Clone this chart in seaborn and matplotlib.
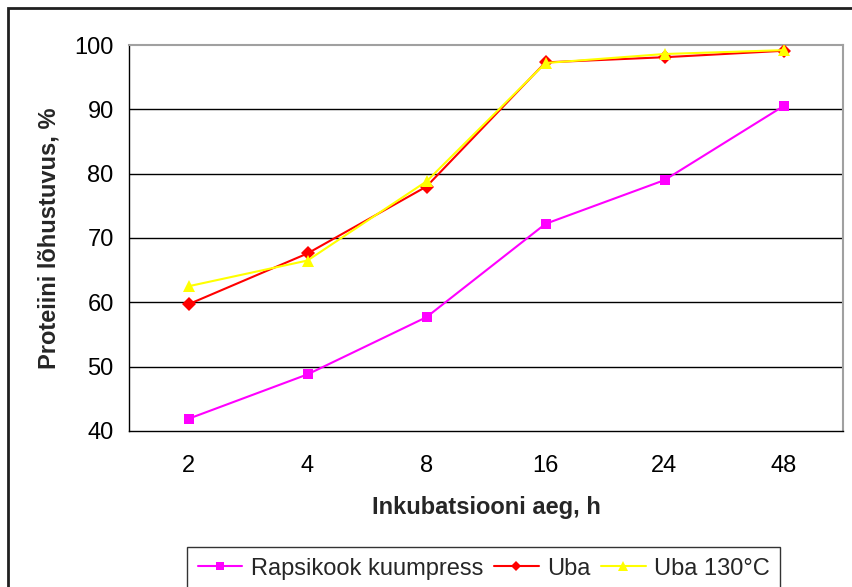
import matplotlib
matplotlib.use("Agg")
import matplotlib.pyplot as plt
from matplotlib.patches import Rectangle
from matplotlib.ticker import FixedLocator
import seaborn as sns
import pandas as pd

hours = ["2", "4", "8", "16", "24", "48"]
rapsikook = [41.9, 48.8, 57.7, 72.2, 79.0, 90.5]
uba = [59.7, 67.6, 78.0, 97.3, 98.1, 99.1]
uba_130 = [62.5, 66.5, 78.8, 97.2, 98.6, 99.2]

series_names = ["Rapsikook kuumpress", "Uba", "Uba 130\u00b0C"]
series_values = [rapsikook, uba, uba_130]
colors = ["#ff00ff", "#ff0000", "#ffff00"]
markers = ["s", "D", "^"]
marker_sizes = [7, 7, 9]

df = pd.concat(
    [pd.DataFrame({"aeg": hours, "väärtus": v, "seeria": n})
     for n, v in zip(series_names, series_values)],
    ignore_index=True,
)

sns.set_theme(style="white")
plt.rcParams["font.family"] = ["Liberation Sans", "DejaVu Sans"]

FS = 17

fig = plt.figure(figsize=(8.52, 5.87), dpi=100)
ax = fig.add_axes([129 / 852, 1 - 431 / 587, (843 - 129) / 852, (431 - 45) / 587])

for name, color, marker, ms in zip(series_names, colors, markers, marker_sizes):
    sub = df[df["seeria"] == name]
    sns.lineplot(data=sub, x="aeg", y="väärtus", ax=ax, color=color,
                 marker=marker, markersize=ms, markeredgewidth=0,
                 linewidth=1.5, label=name, sort=False, zorder=3)

ax.set_xlim(-0.5, len(hours) - 0.5)
ax.set_ylim(40, 100)
ax.set_yticks(range(40, 101, 10))
ax.set_xticks(range(len(hours)))
ax.set_xticklabels(hours)
ax.xaxis.set_minor_locator(FixedLocator([i - 0.5 for i in range(len(hours) + 1)]))

for y in range(50, 100, 10):
    ax.axhline(y, color="black", linewidth=1.0, zorder=1)

for side in ["top", "right"]:
    ax.spines[side].set_color("#a0a0a0")
    ax.spines[side].set_linewidth(1.5)
for side in ["left", "bottom"]:
    ax.spines[side].set_color("black")
    ax.spines[side].set_linewidth(1.0)

ax.tick_params(axis="both", which="both", direction="out", length=5,
               width=1, color="black", labelsize=FS, labelcolor="black")
ax.tick_params(axis="x", which="major", pad=12)
ax.tick_params(axis="y", pad=6)

ax.set_xlabel("Inkubatsiooni aeg, h", fontsize=FS, fontweight="bold", labelpad=14)
ax.set_ylabel("Proteiini lõhustuvus, %", fontsize=FS, fontweight="bold", labelpad=10)

ax.get_legend().remove()
handles, labels = ax.get_legend_handles_labels()
leg = fig.legend(handles, labels, loc="upper left",
                 bbox_to_anchor=(187 / 852, 1 - 547 / 587), ncol=3,
                 frameon=True, fancybox=False, fontsize=FS, markerscale=0.75,
                 handlelength=1.9, handletextpad=0.35, columnspacing=0.45,
                 borderpad=0.45, borderaxespad=0)
leg.get_frame().set_edgecolor("black")
leg.get_frame().set_linewidth(1.0)

fig.patches.append(Rectangle((8 / 852, -0.2), 1.2, 1.2 - 8 / 587,
                             transform=fig.transFigure, fill=False,
                             edgecolor="#202020", linewidth=2))

fig.savefig("out.png", dpi=100)
